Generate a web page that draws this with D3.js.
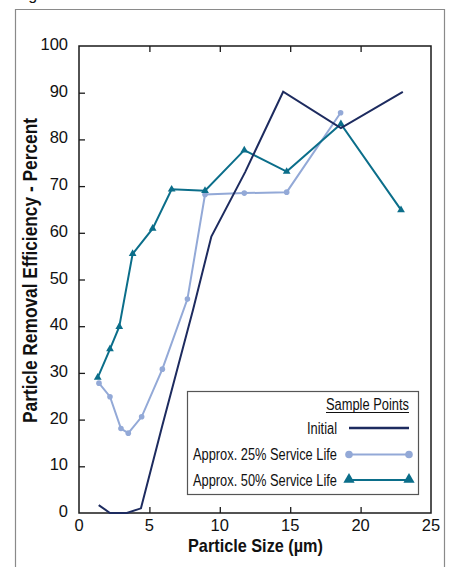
<!DOCTYPE html>
<html><head><meta charset="utf-8">
<script src="https://cdn.jsdelivr.net/npm/d3@7"></script>
<style>
html,body{margin:0;padding:0;background:#fff;}
svg{display:block;}
text{font-family:"Liberation Sans Narrow","Liberation Sans",Arial,sans-serif;fill:#111;}
</style></head>
<body>
<svg id="chart" width="452" height="567"></svg>
<script>
// ---- data ----
const initialX = [1.4, 2.2, 3.4, 4.4, 5.9, 8.1, 9.4, 11.8, 14.5, 18.6, 23.0];
const initialY = [1.7, 0, 0, 1.0, 18.5, 43.5, 59.2, 73.0, 90.2, 82.4, 90.2];
const life25X = [1.42, 2.2, 2.98, 3.5, 4.45, 5.92, 7.7, 8.95, 11.74, 14.75, 18.58];
const life25Y = [27.8, 24.9, 18.1, 17.1, 20.6, 30.8, 45.8, 68.2, 68.5, 68.7, 85.7];
const life50X = [1.33, 2.2, 2.86, 3.81, 5.23, 6.58, 8.95, 11.74, 14.75, 18.6, 22.87];
const life50Y = [29.0, 35.1, 39.9, 55.5, 60.9, 69.3, 69.0, 77.7, 73.1, 83.3, 64.9];
const xTicks = [0, 5, 10, 15, 20, 25];
const yTicks = [0, 10, 20, 30, 40, 50, 60, 70, 80, 90, 100];
const seriesNames = ["Initial", "Approx. 25% Service Life", "Approx. 50% Service Life"];
const legendTitle = "Sample Points";
const xTitle = "Particle Size (\u00b5m)";
const yTitle = "Particle Removal Efficiency - Percent";

const colors = {initial:"#1d2b5f", l25:"#93a9d7", l50:"#0b6e8a"};

const svg = d3.select("#chart");
const L = 79, R = 431, T = 46, B = 513;
const x = d3.scaleLinear().domain([0,25]).range([L,R]);
const y = d3.scaleLinear().domain([0,100]).range([B,T]);

// outer frame
svg.append("path").attr("d", `M15.5,567 V9.5 H444.5 V567`).attr("fill","none").attr("stroke","#8a8a8a").attr("stroke-width",1.2);
svg.append("text").attr("x",15).attr("y",0).attr("font-size",16).attr("font-family","Liberation Sans, Arial, sans-serif").text("Figure");

// plot box
svg.append("rect").attr("x",L).attr("y",T).attr("width",R-L).attr("height",B-T)
  .attr("fill","none").attr("stroke","#1a1a1a").attr("stroke-width",1.5);

// axes with inward ticks
const inner = xTicks.filter(d=>d>0&&d<25);
svg.append("g").attr("transform",`translate(0,${B})`)
  .call(d3.axisTop(x).tickValues(inner).tickSize(6).tickFormat(""))
  .call(g=>g.select(".domain").remove())
  .call(g=>g.selectAll("line").attr("stroke","#1a1a1a").attr("stroke-width",1.3));
svg.append("g").attr("transform",`translate(0,${T})`)
  .call(d3.axisBottom(x).tickValues(inner).tickSize(6).tickFormat(""))
  .call(g=>g.select(".domain").remove())
  .call(g=>g.selectAll("line").attr("stroke","#1a1a1a").attr("stroke-width",1.3));
svg.append("g").attr("transform",`translate(${L},0)`)
  .call(d3.axisRight(y).tickValues(yTicks.filter(d=>d>0&&d<100)).tickSize(6).tickFormat(""))
  .call(g=>g.select(".domain").remove())
  .call(g=>g.selectAll("line").attr("stroke","#1a1a1a").attr("stroke-width",1.3));

// tick labels
svg.append("g").selectAll("text").data(xTicks).join("text")
  .attr("x",d=>x(d)).attr("y",B+18).attr("text-anchor","middle")
  .attr("font-size",16.5).attr("font-family","Liberation Sans, Arial, sans-serif").text(d=>d);
svg.append("g").selectAll("text").data(yTicks).join("text")
  .attr("x",68).attr("y",d=>y(d)+4).attr("text-anchor","end")
  .attr("font-size",16.5).attr("font-family","Liberation Sans, Arial, sans-serif").text(d=>d);

// titles
svg.append("text").attr("x",188).attr("y",552).attr("font-size",19).attr("font-weight","bold")
  .attr("textLength",135).attr("lengthAdjust","spacingAndGlyphs").text(xTitle);
svg.append("text").attr("transform","translate(37,423) rotate(-90)").attr("font-size",20).attr("font-weight","bold")
  .attr("textLength",305).attr("lengthAdjust","spacingAndGlyphs").text(yTitle);

// lines
const line = d3.line().x(d=>x(d[0])).y(d=>y(d[1]));
const dInit = initialX.map((v,i)=>[v,initialY[i]]);
const d25 = life25X.map((v,i)=>[v,life25Y[i]]);
const d50 = life50X.map((v,i)=>[v,life50Y[i]]);

svg.append("path").datum(d25).attr("d",line).attr("fill","none").attr("stroke",colors.l25).attr("stroke-width",2);
svg.append("g").selectAll("circle").data(d25).join("circle")
  .attr("cx",d=>x(d[0])).attr("cy",d=>y(d[1])).attr("r",2.8).attr("fill",colors.l25);

svg.append("path").datum(d50).attr("d",line).attr("fill","none").attr("stroke",colors.l50).attr("stroke-width",2);
const tri = d3.symbol().type(d3.symbolTriangle).size(26);
svg.append("g").selectAll("path").data(d50).join("path")
  .attr("transform",d=>`translate(${x(d[0])},${y(d[1])})`).attr("d",tri).attr("fill",colors.l50);

svg.append("path").datum(dInit).attr("d",line).attr("fill","none").attr("stroke",colors.initial).attr("stroke-width",2);

// legend
const lg = svg.append("g");
lg.append("rect").attr("x",187.5).attr("y",391.5).attr("width",231).attr("height",103)
  .attr("fill","#fff").attr("stroke","#555").attr("stroke-width",1.2);
lg.append("text").attr("x",409).attr("y",410).attr("text-anchor","end").attr("font-size",16)
  .attr("textLength",83).attr("lengthAdjust","spacingAndGlyphs").text(legendTitle);
lg.append("line").attr("x1",326).attr("x2",409).attr("y1",412.5).attr("y2",412.5).attr("stroke","#111").attr("stroke-width",1);
const rowsY = [428, 454.5, 480];
const rowLens = [30, 144, 144];
const rowCols = [colors.initial, colors.l25, colors.l50];
seriesNames.forEach((n,i)=>{
  lg.append("text").attr("x",337).attr("y",rowsY[i]+5.5).attr("text-anchor","end").attr("font-size",16)
    .attr("textLength",rowLens[i]).attr("lengthAdjust","spacingAndGlyphs").text(n);
  lg.append("line").attr("x1",349).attr("x2",409).attr("y1",rowsY[i]).attr("y2",rowsY[i])
    .attr("stroke",rowCols[i]).attr("stroke-width",i===0?2.5:2);
  if(i===1){
    [349,409].forEach(px=>lg.append("circle").attr("cx",px).attr("cy",rowsY[i]).attr("r",3.8).attr("fill",rowCols[i]));
  }
  if(i===2){
    [349,409].forEach(px=>lg.append("path").attr("transform",`translate(${px},${rowsY[i]-0.5})`)
      .attr("d",d3.symbol().type(d3.symbolTriangle).size(55)).attr("fill",rowCols[i]));
  }
});
</script>
</body></html>
